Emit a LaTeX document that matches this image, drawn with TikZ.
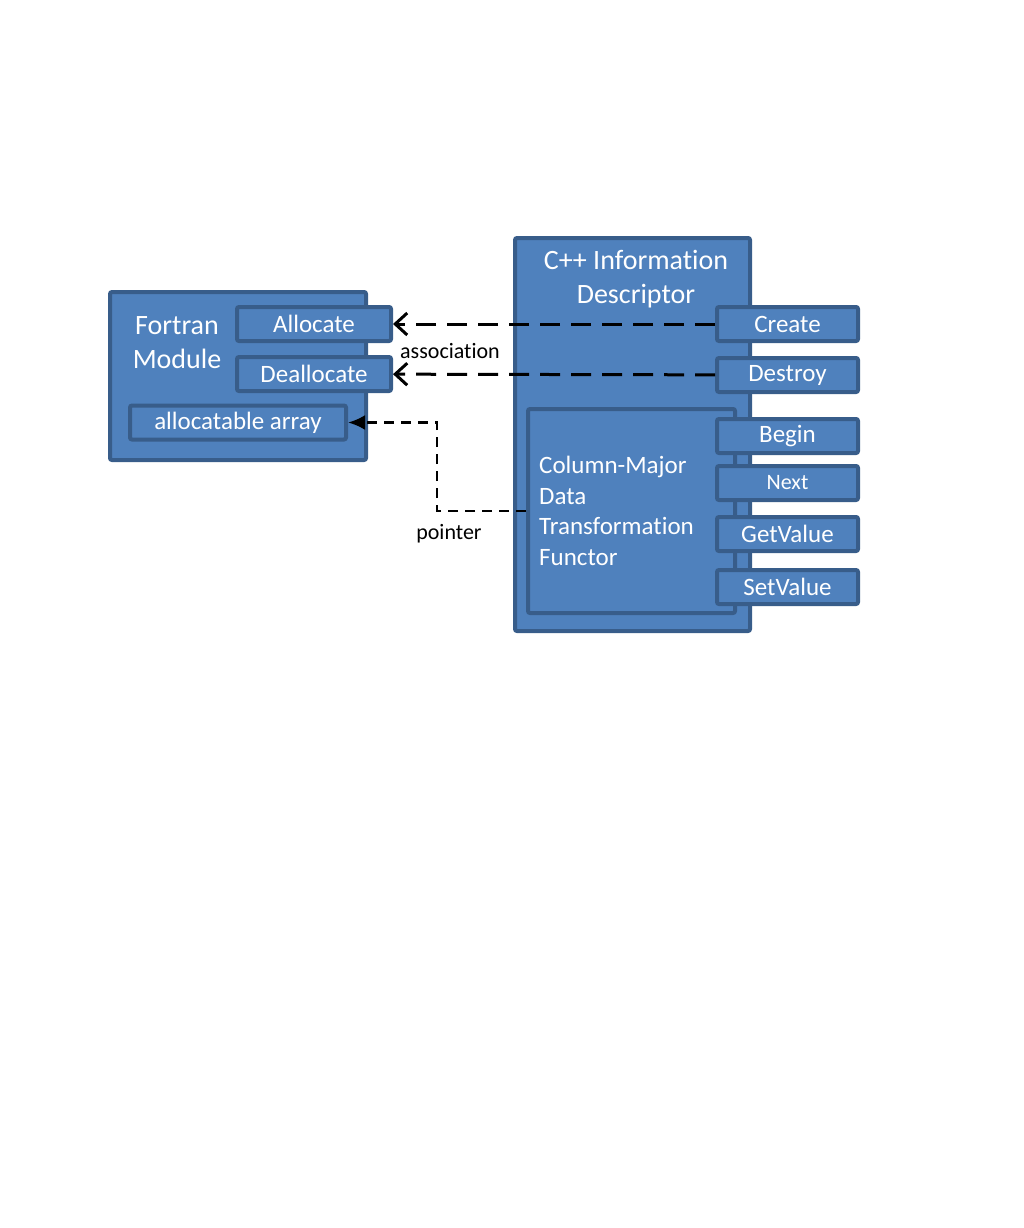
\documentclass[tikz,border=0pt]{standalone}
\usepackage{fontspec}
\setmainfont{Carlito}[Ligatures=NoCommon, RawFeature={-liga;-clig;-calt;-dlig}]
\usetikzlibrary{arrows.meta,positioning}
\definecolor{boxfill}{HTML}{4F81BD}
\definecolor{boxline}{HTML}{385D8A}
\tikzset{mod/.style = {draw=boxline, fill=boxfill, line width=4pt, outer sep=2pt,
    rounded corners=2pt, inner sep=0pt},
  op/.style = {mod, text=white, minimum height=34pt, font=\fontsize{25}{30}\selectfont},
  title/.style = {text=white, align=center, inner sep=0pt, font=\fontsize{28}{34}\selectfont},
  lbl/.style = {inner sep=0pt, font=\fontsize{22}{26}\selectfont}}

\begin{document}
\begin{tikzpicture}[x=1pt,y=-1pt,
    assoc/.style={line width=3pt, dash pattern=on 20pt off 11pt,
      -{Straight Barb[length=12pt,width=22pt,line width=3pt]}},
    ptr/.style={line width=2.8pt, dash pattern=on 10pt off 7pt,
      -{Latex[length=17pt,width=15pt]}}]
  \useasboundingbox (0,0) rectangle (1024,1228);

  % Fortran side
  \node[mod, minimum width=256pt, minimum height=168pt] (fortran) at (238,376) {};
  \node[title]  (fortranlbl) at (177,343) {Fortran\\Module};
  \node[op, minimum width=154pt] (allocate) at (314,324) {Allocate};
  \node[op, minimum width=154pt] (deallocate) [below=12pt of allocate] {Deallocate};
  \node[op, minimum width=216pt] (array) at (238,422.5) {allocatable array};

  % C++ side
  \node[mod, minimum width=235pt, minimum height=393pt] (cpp) at (632.5,434.5) {};
  \node[title]  (cpplbl) at (636,279) {C++ Information\\Descriptor};
  \node[mod, minimum width=207pt, minimum height=204pt] (functor) at (631.5,511) {};
  \node[text=white, align=left, inner sep=0pt, anchor=west,
        font=\fontsize{25}{30.5}\selectfont] (functorlbl) at (539,511)
        {Column-Major\\Data\\Transformation\\Functor};
  \node[op, minimum width=141pt] (create)   at (787.5,324) {Create};
  \node[op, minimum width=141pt] (destroy)  [below=13pt of create] {Destroy};
  \node[op, minimum width=141pt] (begin)    [below=23pt of destroy] {Begin};
  \node[op, minimum width=141pt, font=\fontsize{22}{26}\selectfont] (next) [below=9pt of begin] {Next};
  \node[op, minimum width=141pt] (getvalue) [below=13pt of next] {GetValue};
  \node[op, minimum width=141pt] (setvalue) [below=15pt of getvalue] {SetValue};

  % connectors
  \draw[assoc] (create) -- (allocate);
  \draw[assoc] (destroy) -- (deallocate);
  \node[lbl] (assoclbl) at (450,351) {association};

  \coordinate (ptrbend) at (437,511);
  \draw[ptr] (functor.west) -- (ptrbend) |- (array.east);
  \node[lbl] (ptrlbl) at (449,534) {pointer};
\end{tikzpicture}
\end{document}
